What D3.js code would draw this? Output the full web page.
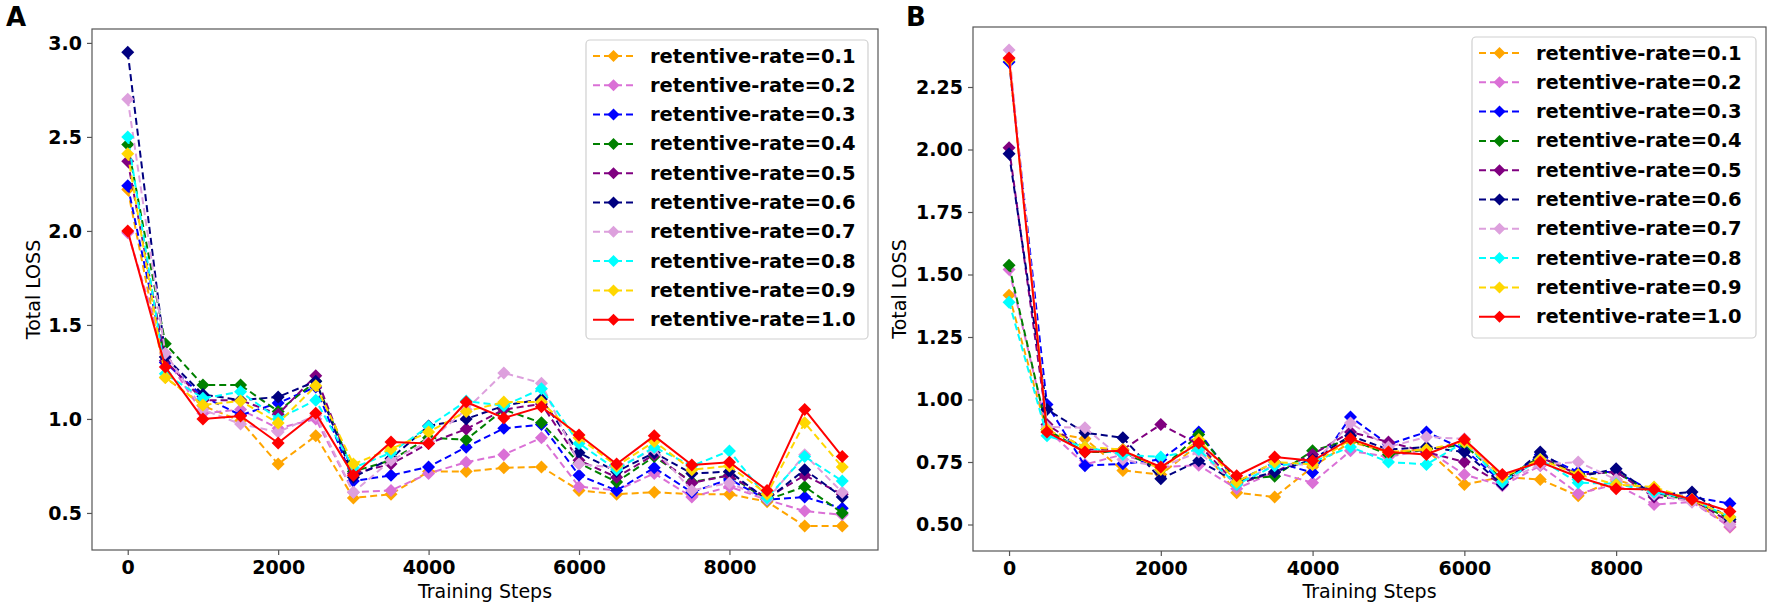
<!DOCTYPE html>
<html><head><meta charset="utf-8">
<script src="https://cdn.jsdelivr.net/npm/d3@7"></script>
<style>body{margin:0;background:#fff;} svg{display:block;}</style>
</head><body>
<svg id="chart" width="1772" height="610"></svg>
<script>
const steps = [0,500,1000,1500,2000,2500,3000,3500,4000,4500,5000,5500,6000,6500,7000,7500,8000,8500,9000,9500];
const seriesNames = ["retentive-rate=0.1","retentive-rate=0.2","retentive-rate=0.3","retentive-rate=0.4","retentive-rate=0.5","retentive-rate=0.6","retentive-rate=0.7","retentive-rate=0.8","retentive-rate=0.9","retentive-rate=1.0"];
const xTicks = [0,2000,4000,6000,8000];
const yTicksA = [0.5,1.0,1.5,2.0,2.5,3.0];
const yTicksB = [0.5,0.75,1.0,1.25,1.5,1.75,2.0,2.25];

// Panel A values
const a01 = [2.22,1.22,1.07,0.99,0.76,0.91,0.58,0.60,0.72,0.72,0.74,0.745,0.62,0.60,0.61,0.60,0.60,0.56,0.43,0.43];
const a02 = [1.99,1.33,1.03,1.05,0.95,1.00,0.61,0.62,0.71,0.77,0.81,0.90,0.64,0.62,0.71,0.585,0.64,0.57,0.51,0.49];
const a03 = [2.24,1.30,1.12,1.02,1.085,1.17,0.67,0.70,0.745,0.85,0.95,0.97,0.70,0.62,0.74,0.61,0.68,0.57,0.585,0.525];
const a04 = [2.46,1.40,1.18,1.18,1.04,1.20,0.72,0.78,0.90,0.89,1.05,0.98,0.765,0.665,0.80,0.665,0.70,0.57,0.64,0.50];
const a05 = [2.37,1.31,1.10,1.10,1.025,1.23,0.71,0.76,0.87,0.946,1.05,1.08,0.78,0.69,0.81,0.66,0.70,0.58,0.70,0.60];
const a06 = [2.95,1.33,1.13,1.10,1.117,1.20,0.69,0.79,0.963,1.00,1.07,1.106,0.82,0.72,0.82,0.71,0.72,0.57,0.73,0.585];
const a07 = [2.70,1.35,1.05,0.973,0.93,1.02,0.61,0.78,0.88,1.05,1.245,1.19,0.76,0.74,0.84,0.62,0.66,0.57,0.81,0.61];
const a08 = [2.50,1.24,1.11,1.145,1.00,1.10,0.74,0.82,0.96,1.095,1.07,1.16,0.87,0.73,0.85,0.75,0.83,0.58,0.80,0.67];
const a09 = [2.41,1.22,1.074,1.096,0.978,1.176,0.76,0.84,0.93,1.04,1.09,1.09,0.90,0.75,0.88,0.73,0.75,0.60,0.98,0.745];
const a10 = [2.00,1.276,1.00,1.016,0.872,1.03,0.70,0.877,0.87,1.09,1.005,1.065,0.915,0.76,0.91,0.755,0.77,0.62,1.05,0.80];

// Panel B values
const b01 = [1.417,0.87,0.843,0.716,0.70,0.82,0.627,0.61,0.73,0.83,0.79,0.80,0.66,0.69,0.68,0.615,0.68,0.63,0.60,0.49];
const b02 = [1.52,0.88,0.74,0.78,0.73,0.737,0.643,0.71,0.667,0.795,0.77,0.80,0.70,0.655,0.735,0.624,0.66,0.58,0.59,0.49];
const b03 = [2.35,0.98,0.735,0.743,0.76,0.87,0.67,0.75,0.708,0.93,0.82,0.87,0.80,0.67,0.78,0.71,0.71,0.63,0.61,0.584];
const b04 = [1.537,0.88,0.79,0.79,0.72,0.86,0.68,0.693,0.795,0.84,0.78,0.80,0.82,0.68,0.77,0.70,0.71,0.62,0.60,0.52];
const b05 = [2.007,0.90,0.80,0.80,0.90,0.82,0.66,0.71,0.78,0.87,0.83,0.79,0.75,0.66,0.77,0.70,0.71,0.61,0.60,0.51];
const b06 = [1.983,0.96,0.867,0.847,0.683,0.755,0.67,0.71,0.76,0.855,0.80,0.81,0.79,0.66,0.79,0.69,0.723,0.617,0.63,0.52];
const b07 = [2.398,0.89,0.887,0.76,0.73,0.79,0.66,0.74,0.74,0.906,0.81,0.85,0.843,0.67,0.74,0.75,0.68,0.62,0.59,0.50];
const b08 = [1.389,0.855,0.81,0.78,0.77,0.80,0.66,0.735,0.75,0.81,0.75,0.74,0.83,0.67,0.76,0.667,0.663,0.63,0.60,0.53];
const b09 = [2.36,0.88,0.81,0.80,0.72,0.84,0.67,0.75,0.74,0.84,0.79,0.80,0.83,0.69,0.76,0.70,0.66,0.65,0.60,0.53];
const b10 = [2.366,0.87,0.79,0.795,0.73,0.826,0.695,0.77,0.755,0.843,0.79,0.78,0.84,0.70,0.75,0.69,0.643,0.64,0.60,0.552];

const colors = ["#FFA500","#DA70D6","#0000FF","#008000","#800080","#000080","#DDA0DD","#00FFFF","#FFD700","#FF0000"];
const valuesA = [a01,a02,a03,a04,a05,a06,a07,a08,a09,a10];
const valuesB = [b01,b02,b03,b04,b05,b06,b07,b08,b09,b10];

const svg = d3.select("#chart");
const FONT = "DejaVu Sans, sans-serif";

function diamond(r){ return `M0,${-r}L${r},0L0,${r}L${-r},0Z`; }

function panel(cfg){
  const {left,right,top,bottom,yDomain,yTicks,yFmt,values,letter,letterX,ylabelX,legend} = cfg;
  const x = d3.scaleLinear().domain([-475,9975]).range([left,right]);
  const y = d3.scaleLinear().domain(yDomain).range([bottom,top]);
  const g = svg.append("g");

  // series
  const line = d3.line().x((d,i)=>x(steps[i])).y(d=>y(d));
  values.forEach((vals,k)=>{
    const sg = g.append("g");
    sg.append("path").datum(vals).attr("d",line)
      .attr("fill","none").attr("stroke",colors[k]).attr("stroke-width",2)
      .attr("stroke-dasharray", k===9 ? null : "7,4");
    sg.selectAll("path.m").data(vals).enter().append("path").attr("class","m")
      .attr("d",diamond(6.5))
      .attr("transform",(d,i)=>`translate(${x(steps[i])},${y(d)})`)
      .attr("fill",colors[k]);
  });

  // frame
  g.append("rect").attr("x",left).attr("y",top).attr("width",right-left).attr("height",bottom-top)
    .attr("fill","none").attr("stroke","#555").attr("stroke-width",1.2);

  // axes
  const xa = g.append("g").attr("transform",`translate(0,${bottom})`)
    .call(d3.axisBottom(x).tickValues(xTicks).tickSize(5).tickPadding(6).tickFormat(d3.format("d")));
  const ya = g.append("g").attr("transform",`translate(${left},0)`)
    .call(d3.axisLeft(y).tickValues(yTicks).tickSize(5).tickPadding(5).tickFormat(d3.format(yFmt)));
  [xa,ya].forEach(a=>{
    a.select(".domain").remove();
    a.selectAll(".tick line").attr("stroke","#555").attr("stroke-width",1.2);
    a.selectAll(".tick text").attr("font-family",FONT).attr("font-weight","bold").attr("font-size",19).attr("fill","#000");
  });

  // labels
  g.append("text").attr("x",(left+right)/2).attr("y",598).attr("text-anchor","middle")
    .attr("font-family",FONT).attr("font-size",19).text("Training Steps");
  g.append("text").attr("transform",`translate(${ylabelX},${(top+bottom)/2}) rotate(-90)`)
    .attr("text-anchor","middle").attr("dominant-baseline","central")
    .attr("font-family",FONT).attr("font-size",19).text("Total LOSS");
  g.append("text").attr("x",letterX).attr("y",26).attr("font-family",FONT).attr("font-weight","bold")
    .attr("font-size",26).text(letter);

  // legend
  const lg = g.append("g");
  lg.append("rect").attr("x",legend.x).attr("y",legend.y).attr("width",legend.w).attr("height",legend.h)
    .attr("rx",4).attr("fill","#fff").attr("fill-opacity",0.8).attr("stroke","#d0d0d0").attr("stroke-width",1.2);
  seriesNames.forEach((name,k)=>{
    const cy = legend.row0 + k*29.3;
    const hx = legend.x + 7;
    lg.append("line").attr("x1",hx).attr("x2",hx+41).attr("y1",cy).attr("y2",cy)
      .attr("stroke",colors[k]).attr("stroke-width",2).attr("stroke-dasharray", k===9?null:"7,4");
    lg.append("path").attr("d",diamond(6)).attr("transform",`translate(${hx+20.5},${cy})`).attr("fill",colors[k]);
    lg.append("text").attr("x",legend.x+64).attr("y",cy).attr("dominant-baseline","central")
      .attr("font-family",FONT).attr("font-weight","bold").attr("font-size",19.5).text(name);
  });
}

panel({left:92,right:878,top:29,bottom:550,yDomain:[0.303,3.074],yTicks:yTicksA,yFmt:".1f",
  values:valuesA,letter:"A",letterX:6,ylabelX:33,
  legend:{x:586,y:40,w:282,h:299,row0:56}});
panel({left:973,right:1766,top:27,bottom:551,yDomain:[0.394,2.49],yTicks:yTicksB,yFmt:".2f",
  values:valuesB,letter:"B",letterX:906,ylabelX:899,
  legend:{x:1472,y:37,w:284,h:301,row0:53}});
</script>
</body></html>
